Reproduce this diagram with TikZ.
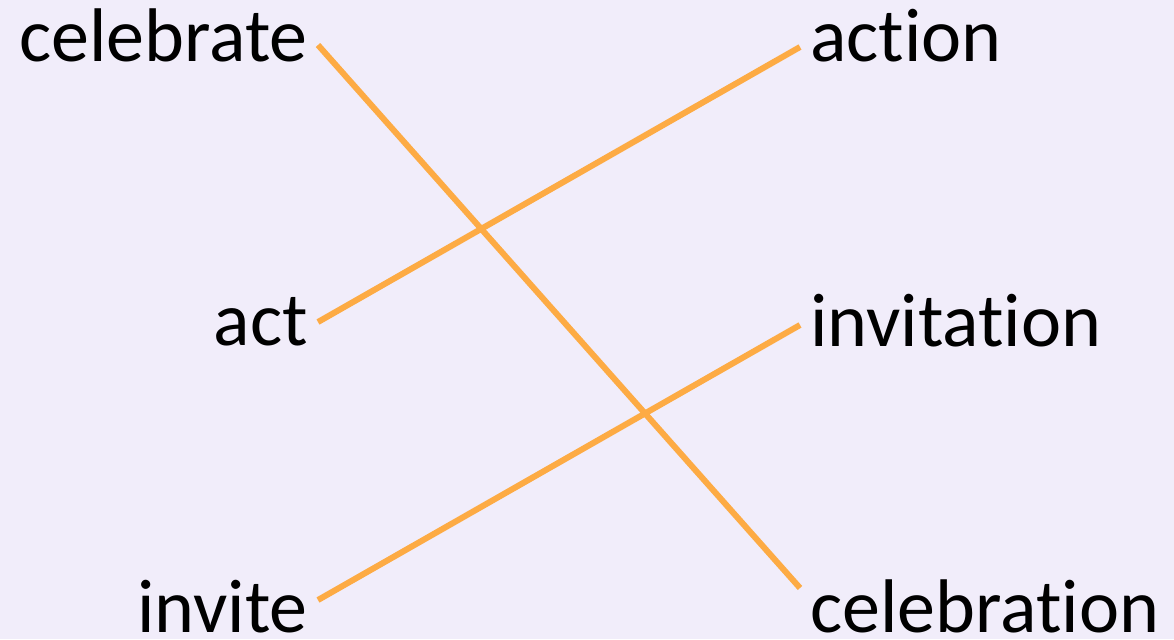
\documentclass[tikz,border=0pt]{standalone}
\usepackage{fontspec}
\setmainfont[RawFeature=-liga]{Carlito}
\usepackage{xcolor}
\usepackage{tikz}
\usetikzlibrary{positioning}
\definecolor{bgpurple}{RGB}{241,237,250}
\definecolor{linkorange}{RGB}{253,171,68}

\begin{document}
\begin{tikzpicture}[x=0.5pt, y=-0.5pt, font=\fontsize{38}{40}\selectfont, word/.style={inner xsep=5pt, inner ysep=0pt, text height=21pt, text depth=0pt}, link/.style={draw=linkorange, line width=3pt}]
\fill[bgpurple] (0,0) rectangle (1174,639);
\useasboundingbox (0,0) rectangle (1174,639);
% left column
\node[word, anchor=base east] (celebrate) at (318,61) {celebrate};
\node[word, anchor=base east] (act) at (318,345) {act};
\node[word, anchor=base east] (invite) at (318,632) {invite};
% right column
\node[word, anchor=base west] (action) at (800,61) {action};
\node[word, anchor=base west] (invitation) at (800,346) {invitation};
\node[word, anchor=base west] (celebration) at (800,632) {celebration};
% matching lines
\draw[link] ([yshift=-2.5pt]celebrate.east) -- ([yshift=11.5pt]celebration.west);
\draw[link] ([yshift=1pt]act.east) -- ([yshift=-3.5pt]action.west);
\draw[link] ([yshift=5.5pt]invite.east) -- (invitation.west);
\end{tikzpicture}
\end{document}
